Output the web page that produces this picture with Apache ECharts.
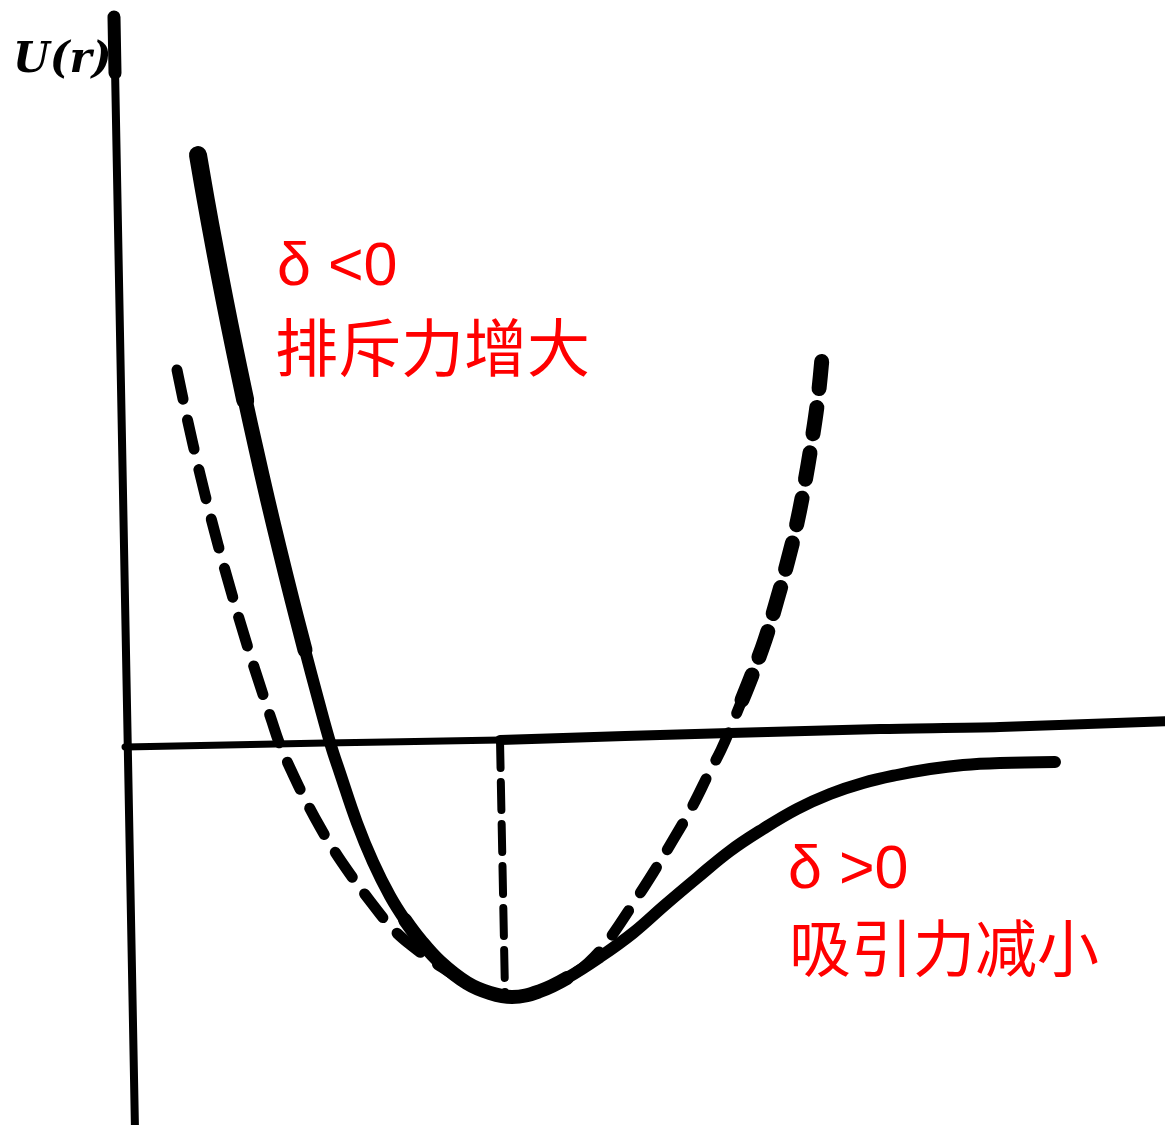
<!DOCTYPE html>
<html>
<head>
<meta charset="utf-8">
<title>U(r)</title>
<script src="https://cdn.jsdelivr.net/npm/echarts@6/dist/echarts.min.js"></script>
<style>
  html, body { margin: 0; padding: 0; background: #ffffff; }
  #chart { width: 1165px; height: 1125px; }
</style>
</head>
<body>
<div id="chart"></div>
<script>
// Potential energy U(r) against separation r (arbitrary units, U = 0 on the r axis)

// Hand-drawn axes
const rAxisLeft = [[0.0, -0.02], [2.0, 0.02], [3.75, 0.05]];
const rAxisRight = [[3.75, 0.05], [5.0, 0.09], [6.05, 0.12], [7.55, 0.16], [8.75, 0.18], [10.45, 0.24]];
const uAxisLine = [[-0.11, 7.30], [0.10, -3.85]];
const uAxisHead = [[-0.11, 7.28], [-0.10, 6.72]];

// Real (anharmonic) potential curve, solid
const realR = [0.730, 0.808, 0.900, 0.996, 1.097, 1.202, 1.313, 1.427, 1.547, 1.671, 1.800, 1.933, 2.058,
  2.15, 2.32, 2.48, 2.65, 2.80, 2.95, 3.15, 3.42, 3.65, 3.87, 4.15, 4.42, 4.75, 5.08, 5.40, 5.72,
  6.05, 6.38, 6.72, 7.05, 7.38, 7.72, 8.05, 8.38, 8.75, 9.30];
const realU = [5.90, 5.45, 4.95, 4.45, 3.95, 3.45, 2.95, 2.45, 1.95, 1.45, 0.95, 0.45, 0.00,
  -0.28, -0.78, -1.17, -1.51, -1.75, -1.95, -2.17, -2.38, -2.48, -2.52, -2.46, -2.33, -2.12, -1.88, -1.60, -1.33,
  -1.06, -0.84, -0.64, -0.49, -0.38, -0.30, -0.24, -0.20, -0.18, -0.17];

// Harmonic approximation, dashed
const harmR = [0.52, 0.625, 0.74, 0.865, 1.00, 1.145, 1.30, 1.465, 1.55, 1.66, 1.80, 1.95, 2.10, 2.25,
  2.45, 2.67, 2.87, 3.12, 3.42, 3.65, 3.87, 4.15, 4.42, 4.63, 4.82, 5.06, 5.28, 5.48, 5.67, 5.84,
  5.96, 6.06, 6.17, 6.27, 6.40, 6.52, 6.63, 6.72, 6.80, 6.87, 6.93, 6.97];
const harmU = [3.75, 3.25, 2.75, 2.25, 1.75, 1.25, 0.75, 0.25, 0.00, -0.25, -0.54, -0.82, -1.07, -1.29,
  -1.56, -1.83, -2.01, -2.19, -2.38, -2.48, -2.52, -2.46, -2.33, -2.18, -1.97, -1.62, -1.28, -0.95, -0.62, -0.28,
  -0.05, 0.18, 0.45, 0.70, 1.05, 1.45, 1.85, 2.22, 2.63, 3.05, 3.47, 3.87];

// Equilibrium separation r0, dropped from the r axis to the minimum
const r0Line = [[3.75, 0.05], [3.80, -2.48]];

// Annotations
const axisTitle = 'U(r)';
const labelRepulsion = ['δ <0', '排斥力增大'];
const labelAttraction = ['δ >0', '吸引力减小'];

const zip = (xs, ys) => xs.map((x, i) => [x, ys[i]]);
const realCurve = zip(realR, realU);
const harmCurve = zip(harmR, harmU);

function stroke(data, width, extra) {
  const s = {
    type: 'line',
    data: data,
    showSymbol: false,
    symbol: 'none',
    smooth: 0.4,
    silent: true,
    animation: false,
    z: 3,
    lineStyle: { color: '#000000', width: width, cap: 'round', join: 'round' }
  };
  if (extra) {
    if (extra.dash) s.lineStyle.type = extra.dash;
    if (extra.smooth !== undefined) s.smooth = extra.smooth;
    if (extra.z !== undefined) s.z = extra.z;
  }
  return s;
}

const chart = echarts.init(document.getElementById('chart'), null, { renderer: 'canvas' });

const red = '#ff0000';
const latin = '"Liberation Sans", Arial, sans-serif';
const cjk = '"Noto Sans CJK SC", "Noto Sans CJK JP", sans-serif';

chart.setOption({
  backgroundColor: '#ffffff',
  animation: false,
  grid: { left: 0, right: 0, top: 0, bottom: 0 },
  xAxis: { type: 'value', min: -1.25, max: 10.40, show: false },
  yAxis: { type: 'value', min: -3.80, max: 7.45, show: false },
  series: [
    // axes
    stroke(rAxisLeft, 7, { smooth: 0.3, z: 2 }),
    stroke(rAxisRight, 10, { smooth: 0.3, z: 2 }),
    stroke(uAxisLine, 8, { smooth: false, z: 2 }),
    stroke(uAxisHead, 13, { smooth: false, z: 2 }),
    // r0 marker
    stroke(r0Line, 8, { smooth: false, z: 2, dash: [28, 14] }),
    // harmonic approximation: lighter on the left, heavier up the right branch
    stroke(harmCurve.slice(0, 33), 11, { dash: [30, 21] }),
    stroke(harmCurve.slice(32), 15, { dash: [27, 19] }),
    // real potential, with a heavier stroke along the repulsive wall and the well bottom
    stroke(realCurve, 12, { z: 4 }),
    stroke(realCurve.slice(0, 11), 15, { z: 5 }),
    stroke(realCurve.slice(0, 6), 18, { z: 6 }),
    stroke(realCurve.slice(17, 25), 14, { z: 5 })
  ],
  graphic: [
    {
      type: 'text', left: 13, top: 40, z: 10,
      style: { text: axisTitle, fill: '#000', font: 'italic bold 42px "DejaVu Serif", serif' }
    },
    {
      type: 'text', x: 277, y: 268, z: 10,
      style: { text: labelRepulsion[0], fill: red, verticalAlign: 'middle', font: '61px ' + latin }
    },
    {
      type: 'text', x: 275, y: 347, z: 10,
      style: { text: labelRepulsion[1], fill: red, verticalAlign: 'middle', font: '63px ' + cjk }
    },
    {
      type: 'text', x: 788, y: 871, z: 10,
      style: { text: labelAttraction[0], fill: red, verticalAlign: 'middle', font: '61px ' + latin }
    },
    {
      type: 'text', x: 789, y: 948, z: 10,
      style: { text: labelAttraction[1], fill: red, verticalAlign: 'middle', font: '62px ' + cjk }
    }
  ]
});
</script>
</body>
</html>
